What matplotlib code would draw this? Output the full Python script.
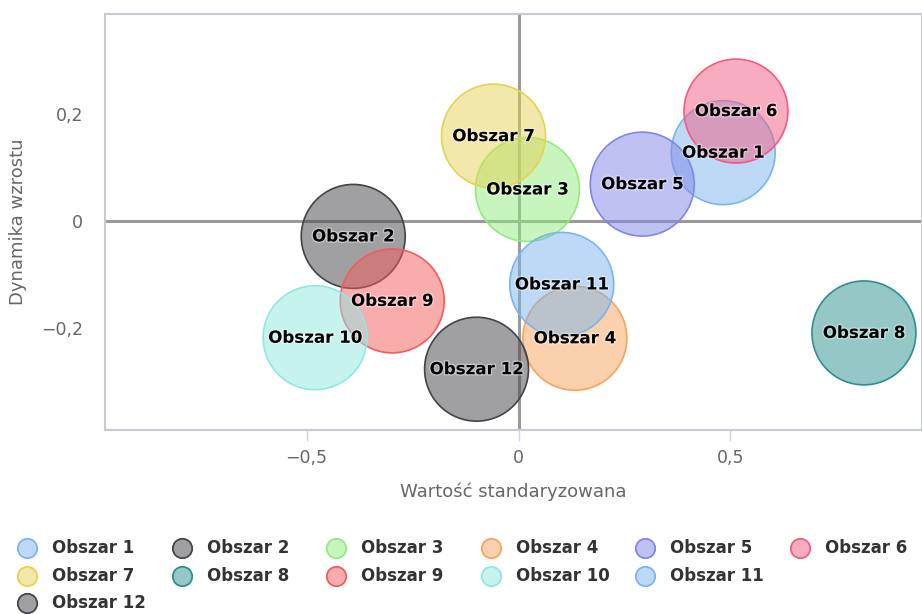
import matplotlib.pyplot as plt
import matplotlib.patheffects as pe
from matplotlib.ticker import FuncFormatter
from matplotlib.lines import Line2D

# Bubble data (all bubbles same size)
names = ['Obszar 1', 'Obszar 2', 'Obszar 3', 'Obszar 4', 'Obszar 5', 'Obszar 6',
         'Obszar 7', 'Obszar 8', 'Obszar 9', 'Obszar 10', 'Obszar 11', 'Obszar 12']
x_vals = [0.483, -0.390, 0.021, 0.133, 0.292, 0.513,
          -0.059, 0.815, -0.298, -0.480, 0.102, -0.099]
y_vals = [0.128, -0.029, 0.059, -0.220, 0.069, 0.206,
          0.159, -0.210, -0.150, -0.219, -0.119, -0.278]
colors = ['#7cb5ec', '#434348', '#90ed7d', '#f7a35c', '#8085e9', '#f15c80',
          '#e4d354', '#2b908f', '#f45b5b', '#91e8e1', '#7cb5ec', '#434348']
legend_rows = [[0, 1, 2, 3, 4, 5], [6, 7, 8, 9, 10], [11]]

fig = plt.figure(figsize=(9.22, 6.14), dpi=100)
ax = fig.add_axes([0.1142, 0.2997, 0.8858, 0.6775])

ax.axhline(0, color='#9a9a9a', lw=2.2, zorder=1)
ax.axvline(0, color='#9a9a9a', lw=2.2, zorder=1)

for i in range(len(names)):
    ax.scatter(x_vals[i], y_vals[i], s=5600, color=colors[i], alpha=0.5,
               edgecolors='none', zorder=2)
    ax.scatter(x_vals[i], y_vals[i], s=5600, facecolors='none',
               edgecolors=colors[i], linewidths=1.2, zorder=2)
for i in range(len(names)):
    ax.text(x_vals[i], y_vals[i], names[i], ha='center', va='center',
            fontsize=12, fontweight='bold', color='black', zorder=5,
            path_effects=[pe.withStroke(linewidth=2, foreground='white', alpha=0.4)])

ax.set_xlim(-0.975, 0.952)
ax.set_ylim(-0.392, 0.388)
ax.set_xticks([-0.5, 0, 0.5])
ax.set_yticks([-0.2, 0, 0.2])

def fmt(v, pos):
    if abs(v) < 1e-9:
        return '0'
    return ('%g' % v).replace('.', ',').replace('-', '\u2212')

ax.xaxis.set_major_formatter(FuncFormatter(fmt))
ax.yaxis.set_major_formatter(FuncFormatter(fmt))
ax.tick_params(axis='x', length=8, width=1, color='#ccd6eb', labelsize=12.5,
               labelcolor='#666666', pad=6)
ax.tick_params(axis='y', length=0, labelsize=12.5, labelcolor='#666666', pad=16)

for side in ['top', 'bottom', 'left', 'right']:
    ax.spines[side].set_color('#c8ccd2')
    ax.spines[side].set_linewidth(1.5)

ax.set_xlabel('Wartość standaryzowana', fontsize=13, color='#666666', labelpad=11)
ax.set_ylabel('Dynamika wzrostu', fontsize=13, color='#666666', labelpad=10)

# Legend drawn row by row like the original
row_y = [548, 576, 603]
for r, row in enumerate(legend_rows):
    for c, i in enumerate(row):
        xm = 27 + c * 154.6
        ym = 614 - row_y[r]
        fig.add_artist(Line2D([xm / 922], [ym / 614], marker='o', markersize=14,
                              markerfacecolor=colors[i], markeredgecolor=colors[i],
                              alpha=0.5, transform=fig.transFigure))
        fig.add_artist(Line2D([xm / 922], [ym / 614], marker='o', markersize=14,
                              markerfacecolor='none', markeredgecolor=colors[i],
                              markeredgewidth=1.2, transform=fig.transFigure))
        fig.text((xm + 25) / 922, ym / 614, names[i], ha='left', va='center',
                 fontsize=12, fontweight='bold', color='#333333')

fig.savefig('out.png', dpi=100)
